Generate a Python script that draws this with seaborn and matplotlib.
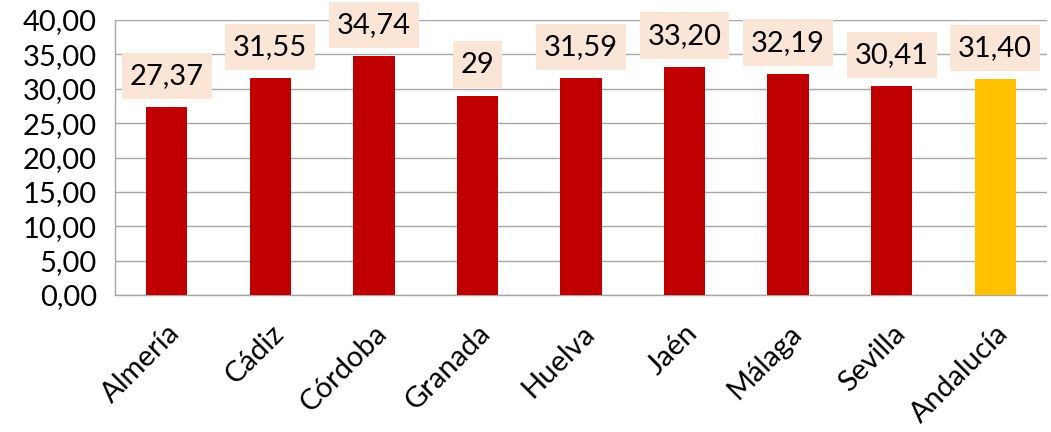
import matplotlib
matplotlib.use("Agg")
import matplotlib.pyplot as plt
import seaborn as sns
import pandas as pd

provincias = ["Almería", "Cádiz", "Córdoba", "Granada", "Huelva",
              "Jaén", "Málaga", "Sevilla", "Andalucía"]
valores = [27.37, 31.55, 34.74, 29.0, 31.59, 33.20, 32.19, 30.41, 31.40]
etiquetas = ["27,37", "31,55", "34,74", "29", "31,59", "33,20", "32,19", "30,41", "31,40"]
colores = ["#C00000"] * 8 + ["#FFC000"]
ticks_y = [0, 5, 10, 15, 20, 25, 30, 35, 40]

sns.set_theme(style="white")
plt.rcParams["font.family"] = ["Lato", "DejaVu Sans"]

df = pd.DataFrame({"provincia": provincias, "valor": valores})

fig = plt.figure(figsize=(10.51, 4.32), dpi=100)
ax = fig.add_axes([115 / 1051, 1 - 295 / 432, (1047 - 115) / 1051, (295 - 20) / 432])

sns.barplot(data=df, x="provincia", y="valor", hue="provincia",
            palette=colores, legend=False, width=0.4, ax=ax,
            saturation=1, edgecolor="none", zorder=3)

ax.set_xlim(-0.5, len(provincias) - 0.5)
ax.set_ylim(0, 40)
ax.set_yticks(ticks_y)
ax.set_yticklabels([f"{t:.2f}".replace(".", ",") for t in ticks_y])
ax.set_xlabel("")
ax.set_ylabel("")

grid_col = "#A6A6A6"
ax.yaxis.grid(True, color=grid_col, linewidth=1, zorder=0)
ax.set_axisbelow(True)
for s in ["top", "right"]:
    ax.spines[s].set_visible(False)
for s in ["left", "bottom"]:
    ax.spines[s].set_color(grid_col)
    ax.spines[s].set_linewidth(1)

# category boundary ticks on the x axis
ax.set_xticks([i - 0.5 for i in range(len(provincias) + 1)], minor=True)
ax.tick_params(axis="x", which="minor", length=8, color=grid_col, width=1, direction="out")
ax.tick_params(axis="x", which="major", length=0, pad=18)
ax.tick_params(axis="y", length=8, color=grid_col, width=1, direction="out", pad=5, labelsize=21)
ax.set_xticks(range(len(provincias)))
ax.set_xticklabels(provincias, rotation=45, ha="right", rotation_mode="anchor", fontsize=21)
for lab in ax.get_yticklabels() + ax.get_xticklabels():
    lab.set_color("#000000")

# value labels with a light background box
for i, (v, t) in enumerate(zip(valores, etiquetas)):
    ax.annotate(t, xy=(i, v), xytext=(0, 13), textcoords="offset points",
                ha="center", va="bottom", fontsize=21, color="#000000",
                annotation_clip=False, zorder=5,
                bbox=dict(boxstyle="square,pad=0.27", mutation_aspect=1.3,
                          facecolor="#FBE5D6", edgecolor="none"))

fig.savefig("out.png", dpi=100)
